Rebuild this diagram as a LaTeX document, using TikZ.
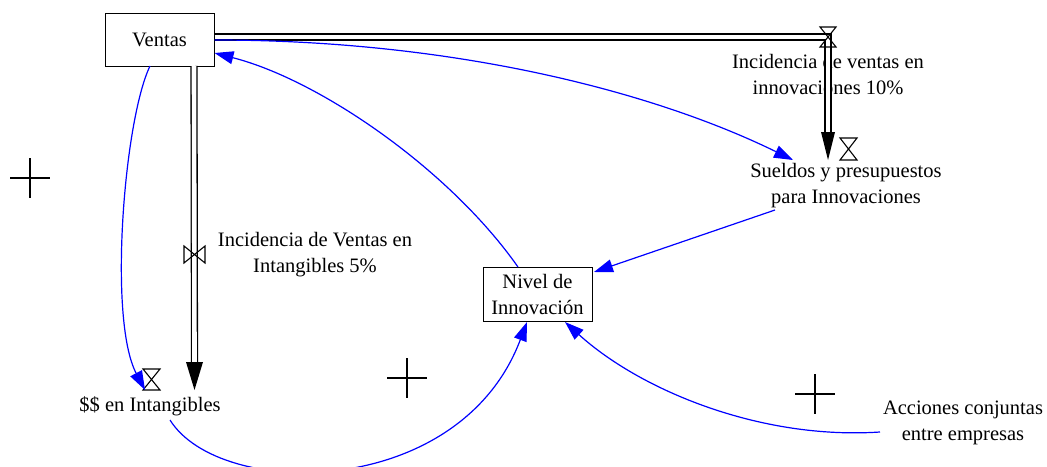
\documentclass[tikz,border=0pt]{standalone}
\usepackage{fontspec}
\setmainfont{Liberation Serif}
\usetikzlibrary{arrows.meta}
\tikzset{
  txt/.style={font=\fontsize{20.5}{26}\selectfont, align=center, inner sep=2pt},
  stockbox/.style={txt, draw, line width=1pt},
  link/.style={draw=blue, line width=1.2pt, -{Triangle[length=19pt,width=13pt]}},
  pipe/.style={draw=black, double=white, double distance=4.6pt, line width=1.3pt},
  flowhead/.style={fill=black},
  icon/.style={draw=black, line width=1.1pt},
  plussign/.style={draw=black, line width=2pt}
}
\begin{document}
\begin{tikzpicture}[x=1pt,y=-1pt]
\useasboundingbox (0,0) rectangle (1047,466);

% nodes
\node[stockbox, minimum width=109pt, minimum height=53pt] (ventas) at (159.5,39.5) {Ventas};
\node[stockbox, minimum width=109pt, minimum height=54pt] (nivel) at (537.5,294) {Nivel de\\Innovación};
\node[txt] (sueldos) at (846,186) {Sueldos y presupuestos\\para Innovaciones};
\node[txt] (intang) at (150,406) {\$\$ en Intangibles};
\node[txt] (acciones) at (963,423) {Acciones conjuntas\\entre empresas};
\node[txt] (rate1) at (828,75) {Incidencia de ventas en\\innovaciones 10\%};
\node[txt] (rate2) at (315,255) {Incidencia de Ventas en\\Intangibles 5\%};

% flow pipes
\draw[pipe] ([shift={(55,-2.5)}]ventas.center) -| ([shift={(-18,-53)}]sueldos.center);
\fill[flowhead] ([shift={(-25,-54)}]sueldos.center) -- ([shift={(-11,-54)}]sueldos.center) -- ([shift={(-18,-26)}]sueldos.center) -- cycle;

\draw[pipe] ([shift={(34.5,26.5)}]ventas.center) -- ([shift={(44.5,-43)}]intang.center);
\fill[flowhead] ([shift={(36,-44)}]intang.center) -- ([shift={(53,-44)}]intang.center) -- ([shift={(44.5,-16)}]intang.center) -- cycle;

% valves / icons
\draw[icon] (820,27) -- (836,27) -- (820,47) -- (836,47) -- cycle;
\draw[icon] (840,138) -- (857,138) -- (840,160) -- (857,160) -- cycle;
\draw[icon] (143,369) -- (160,369) -- (143,390) -- (160,390) -- cycle;
\draw[icon] (184,246) -- (184,263) -- (205,246) -- (205,263) -- cycle;

% plus signs
\foreach \cx/\cy in {30/178, 407/378, 815/394}{
  \draw[plussign] (\cx-20,\cy) -- (\cx+20,\cy);
  \draw[plussign] (\cx,\cy-20) -- (\cx,\cy+20);
}

% causal links
\draw[link] ([shift={(-9.5,26.5)}]ventas.center) .. controls (124,120) and (108,320) .. ([shift={(-5,-16)}]intang.center);
\draw[link] ([shift={(-19.5,-27)}]nivel.center) .. controls (450,170) and (320,80) .. ([shift={(55,13.5)}]ventas.center);
\draw[link] ([shift={(55,0.5)}]ventas.center) .. controls (450,40) and (650,90) .. ([shift={(-53,-26)}]sueldos.center);
\draw[link] ([shift={(-71,24)}]sueldos.center) -- ([shift={(56.5,-22)}]nivel.center);
\draw[link] ([shift={(20,14)}]intang.center) .. controls (220,500) and (460,500) .. ([shift={(-10.5,28)}]nivel.center);
\draw[link] ([shift={(-83,9)}]acciones.center) .. controls (760,440) and (640,390) .. ([shift={(27.5,28)}]nivel.center);
\end{tikzpicture}
\end{document}
